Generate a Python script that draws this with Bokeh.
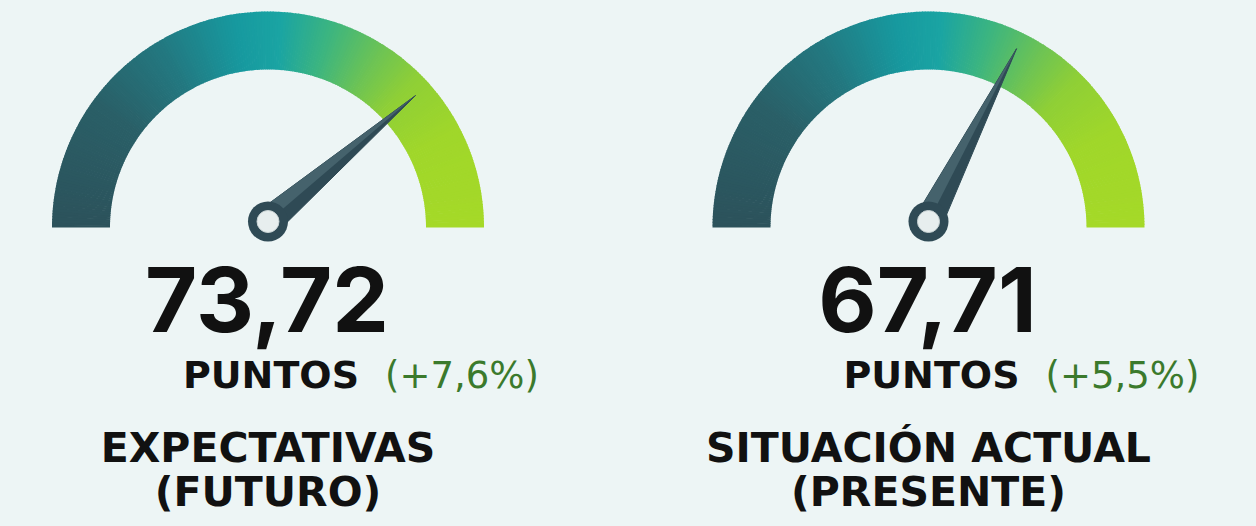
import math
from bokeh.plotting import figure
from bokeh.models import Range1d
from bokeh.core.properties import value
from bokeh.embed import file_html
from bokeh.resources import INLINE

# ---- data ----
titles_line1 = ["EXPECTATIVAS", "SITUACIÓN ACTUAL"]
titles_line2 = ["(FUTURO)", "(PRESENTE)"]
scores = ["73,72", "67,71"]
changes = ["(+7,6%)", "(+5,5%)"]
unit_label = "PUNTOS"
needle_pct = [77.5, 65.0]   # needle position (0-100 along the arc)

# ---- style / layout ----
BG = "#edf5f5"
W, H = 1256, 526
centers_x = [267.5, 928.0]
center_y = H - 227
R_OUT, R_IN = 216, 158
NEEDLE_COL = "#2f4a55"
NEEDLE_HI = "#45626c"
NUM_FONT = value("Inter")
LBL_FONT = value("DejaVu Sans")

stops = [(0.00, "#2c525b"), (0.20, "#2a5f67"), (0.33, "#237880"),
         (0.45, "#17999f"), (0.52, "#1aa4a3"), (0.60, "#3db57f"),
         (0.68, "#6cc355"), (0.75, "#8fcf36"), (0.85, "#a0d72a"),
         (1.00, "#a5d928")]


def hex2rgb(h):
    return tuple(int(h[i:i + 2], 16) for i in (1, 3, 5))


def grad(t):
    for (t0, c0), (t1, c1) in zip(stops[:-1], stops[1:]):
        if t <= t1:
            f = (t - t0) / (t1 - t0) if t1 > t0 else 0
            a, b = hex2rgb(c0), hex2rgb(c1)
            return "#%02x%02x%02x" % tuple(round(a[k] + (b[k] - a[k]) * f) for k in range(3))
    return stops[-1][1]


def base(img_y, size):
    # text y in data units for a desired alphabetic baseline (image px)
    return H - img_y + 0.39 * size


p = figure(width=W, height=H, x_range=Range1d(0, W), y_range=Range1d(0, H),
           output_backend="svg", toolbar_location=None, min_border=0,
           x_axis_location=None, y_axis_location=None,
           background_fill_color=BG, border_fill_color=BG, outline_line_color=None)
p.grid.visible = False

N = 240
for cx in centers_x:
    xs, ys, a0s, a1s, cols = [], [], [], [], []
    for i in range(N):
        t = (i + 0.5) / N
        a_start = math.pi * (1 - (i + 1) / N)
        a_end = math.pi * (1 - i / N) + (0.004 if i > 0 else 0)
        xs.append(cx); ys.append(center_y)
        a0s.append(a_start); a1s.append(a_end)
        cols.append(grad(t))
    p.annular_wedge(x=xs, y=ys, inner_radius=R_IN, outer_radius=R_OUT,
                    start_angle=a0s, end_angle=a1s, fill_color=cols,
                    line_color=None)

# needles
L = 194
HW = 14
for cx, pct in zip(centers_x, needle_pct):
    px, py = cx, center_y + 6
    th = math.pi * (1 - pct / 100.0)
    tx, ty = px + L * math.cos(th), py + L * math.sin(th)
    nx, ny = -math.sin(th), math.cos(th)
    p.patch([tx, px + HW * nx, px - HW * nx], [ty, py + HW * ny, py - HW * ny],
            fill_color=NEEDLE_COL, line_color=NEEDLE_COL, line_width=1)
    p.patch([tx, px + HW * nx, px], [ty, py + HW * ny, py],
            fill_color=NEEDLE_HI, line_color=None)
    p.circle(x=[px], y=[py], radius=20, fill_color=NEEDLE_COL, line_color=None)
    p.circle(x=[px], y=[py], radius=11, fill_color="#e7eeee",
             line_color="#c9d3d4", line_width=1)

# texts
for cx, sc, ch, t1, t2 in zip(centers_x, scores, changes, titles_line1, titles_line2):
    p.text(x=[cx - 1], y=[base(334, 90)], text=[sc], text_font=NUM_FONT,
           text_font_style="bold", text_font_size="90px", text_color="#111111",
           text_align="center", text_baseline="alphabetic")
    p.text(x=[cx + 91], y=[base(389, 38)], text=[unit_label], text_font=LBL_FONT,
           text_font_style="bold", text_font_size="38px", text_color="#111111",
           text_align="right", text_baseline="alphabetic")
    p.text(x=[cx + 117], y=[base(389, 37)], text=[ch], text_font=LBL_FONT,
           text_font_style="normal", text_font_size="37px", text_color="#3b7a2c",
           text_align="left", text_baseline="alphabetic")
    p.text(x=[cx], y=[base(463, 41)], text=[t1], text_font=LBL_FONT,
           text_font_style="bold", text_font_size="41px", text_color="#111111",
           text_align="center", text_baseline="alphabetic")
    p.text(x=[cx], y=[base(507, 41)], text=[t2], text_font=LBL_FONT,
           text_font_style="bold", text_font_size="41px", text_color="#111111",
           text_align="center", text_baseline="alphabetic")

html = file_html(p, INLINE)
html = html.replace("<head>", "<head><style>body{background:%s;}</style>" % BG, 1)
open("out.html", "w").write(html)
